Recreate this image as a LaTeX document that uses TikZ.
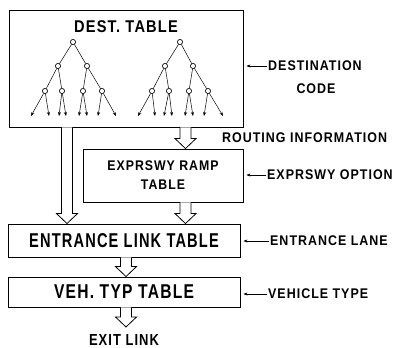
\documentclass[tikz,border=0pt]{standalone}
\usepackage{fontspec}
\setmainfont{Liberation Sans}
\usepackage{graphicx}
\usetikzlibrary{arrows.meta,calc}
\newcommand\fs[2]{\fontsize{#1}{#2}\selectfont\bfseries\addfontfeature{LetterSpace=8}}
\newcommand\sx[2]{\scalebox{#1}[1]{#2}}
% hollow block arrow: #1 = x (pt), #2 = start point, #3 = tip point
\newcommand\blkarrow[3]{%
  \draw[blk] let \p1=(#2), \p2=(#3) in
    (#1pt-5.5pt,\y1) -- (#1pt-5.5pt,\y2+10pt) -- (#1pt-10.5pt,\y2+10pt) --
    (#1pt,\y2) -- (#1pt+10.5pt,\y2+10pt) -- (#1pt+5.5pt,\y2+10pt) -- (#1pt+5.5pt,\y1);}
\begin{document}
\begin{tikzpicture}[x=1pt,y=1pt,
  box/.style={draw,line width=0.9pt,inner sep=0pt},
  tn/.style={circle,draw,line width=0.5pt,minimum size=5pt,inner sep=0pt,fill=white},
  br/.style={line width=0.5pt},
  lf/.style={line width=0.5pt,-{Stealth[length=4pt,width=3pt]}},
  lbl/.style={inner sep=0pt,font=\fs{14}{16}},
  lar/.style={line width=0.5pt,-{Stealth[length=4pt,width=3pt]},shorten >=3pt,shorten <=1.5pt},
  blk/.style={draw,line width=0.8pt,fill=white,line join=miter}]
\useasboundingbox (0,0) rectangle (397,348);

% boxes
\node[box,minimum width=234pt,minimum height=117pt] (top) at (126,279.5) {};
\node[inner sep=0pt,font=\fs{17}{19}] (dtitle) at (126,321) {\sx{0.86}{DEST. TABLE}};
\node[box,minimum width=160pt,minimum height=53pt,align=center,font=\fs{14}{19}] (exp) at (163,172.5) {\sx{0.88}{EXPRSWY RAMP}\\\sx{0.88}{TABLE}};
\node[box,minimum width=232pt,minimum height=33pt,font=\fs{20}{22}] (ent) at (124,107.5) {\sx{0.73}{ENTRANCE LINK TABLE}};
\node[box,minimum width=232pt,minimum height=30pt,font=\fs{20}{22}] (veh) at (124,56) {\sx{0.78}{VEH. TYP TABLE}};
\node[inner sep=0pt,font=\fs{16}{18}] (exit) at (124,8) {\sx{0.81}{EXIT LINK}};
\coordinate (exittip) at (126,21);

% left tree
\node[tn] (lr) at (73,306) {};
\node[tn] (la) at (58,282) {};
\node[tn] (lb) at (87,282) {};
\node[tn] (lc1) at (45,257) {};
\node[tn] (lc2) at (62,257) {};
\node[tn] (lc3) at (83,257) {};
\node[tn] (lc4) at (102,257) {};
\foreach \n/\x in {l1/31,l2/49,l3/59,l4/66,l5/79,l6/87,l7/98,l8/116}
  \coordinate (\n) at (\x,232);
\draw[br] (lr) -- (la); \draw[br] (lr) -- (lb);
\draw[br] (la) -- (lc1); \draw[br] (la) -- (lc2);
\draw[br] (lb) -- (lc3); \draw[br] (lb) -- (lc4);
\draw[lf] (lc1) -- (l1); \draw[lf] (lc1) -- (l2);
\draw[lf] (lc2) -- (l3); \draw[lf] (lc2) -- (l4);
\draw[lf] (lc3) -- (l5); \draw[lf] (lc3) -- (l6);
\draw[lf] (lc4) -- (l7); \draw[lf] (lc4) -- (l8);

% right tree
\node[tn] (rr) at (180,306) {};
\node[tn] (ra) at (165,282) {};
\node[tn] (rb) at (193,282) {};
\node[tn] (rc1) at (152,257) {};
\node[tn] (rc2) at (169,257) {};
\node[tn] (rc3) at (189,257) {};
\node[tn] (rc4) at (208,257) {};
\foreach \n/\x in {r1/138,r2/155,r3/164,r4/172,r5/185,r6/193,r7/204,r8/223}
  \coordinate (\n) at (\x,232);
\draw[br] (rr) -- (ra); \draw[br] (rr) -- (rb);
\draw[br] (ra) -- (rc1); \draw[br] (ra) -- (rc2);
\draw[br] (rb) -- (rc3); \draw[br] (rb) -- (rc4);
\draw[lf] (rc1) -- (r1); \draw[lf] (rc1) -- (r2);
\draw[lf] (rc2) -- (r3); \draw[lf] (rc2) -- (r4);
\draw[lf] (rc3) -- (r5); \draw[lf] (rc3) -- (r6);
\draw[lf] (rc4) -- (r7); \draw[lf] (rc4) -- (r8);
\foreach \n in {lr,la,lb,lc1,lc2,lc3,lc4,rr,ra,rb,rc1,rc2,rc3,rc4}
  \node[tn] at (\n) {};

% block arrows
\blkarrow{67}{top.south}{ent.north}
\blkarrow{185.5}{top.south}{exp.north}
\blkarrow{185.5}{exp.south}{ent.north}
\blkarrow{126}{ent.south}{veh.north}
\blkarrow{126}{veh.south}{exittip}

% side labels
\node[lbl,anchor=west] (dest) at (268,282) {\sx{0.89}{DESTINATION}};
\node[lbl] (code) at (316,259) {\sx{0.89}{CODE}};
\node[lbl,anchor=west] (rout) at (222,210) {\sx{0.89}{ROUTING INFORMATION}};
\node[lbl,anchor=west] (expo) at (267,173) {\sx{0.89}{EXPRSWY OPTION}};
\node[lbl,anchor=west] (entl) at (270,107) {\sx{0.89}{ENTRANCE LANE}};
\node[lbl,anchor=west] (veht) at (268,54) {\sx{0.89}{VEHICLE TYPE}};
\draw[lar] (dest.west) -- (top.east |- dest.west);
\draw[lar] (expo.west) -- (exp.east |- expo.west);
\draw[lar] (entl.west) -- (ent.east |- entl.west);
\draw[lar] (veht.west) -- (veh.east |- veht.west);
\end{tikzpicture}
\end{document}
